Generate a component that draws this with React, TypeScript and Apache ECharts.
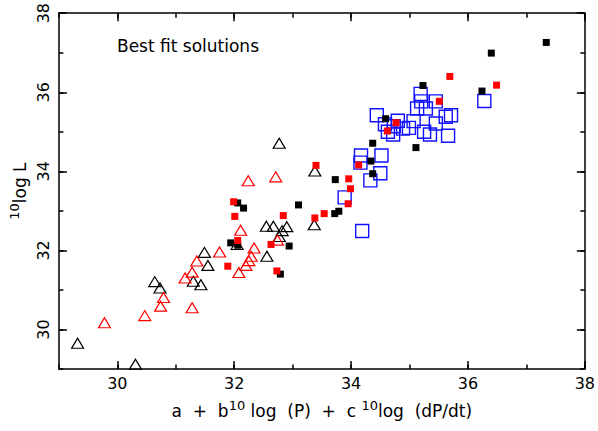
import React, { useEffect, useRef } from "react";
import * as echarts from "echarts";

const blackTriangles: number[][] = [
  [29.32, 29.65], [30.31, 29.12], [30.64, 31.21], [30.73, 31.05], [31.3, 31.22],
  [31.43, 31.13], [31.49, 31.95], [31.55, 31.62], [32.05, 32.15], [32.55, 32.61],
  [32.67, 32.61], [32.9, 32.6], [32.82, 32.5], [32.77, 32.35], [32.56, 31.85],
  [32.77, 34.71], [33.38, 34.01], [33.37, 32.65],
];
const redTriangles: number[][] = [
  [29.78, 30.17], [30.47, 30.35], [30.74, 30.59], [30.79, 30.81], [31.28, 30.55],
  [31.16, 31.3], [31.28, 31.45], [31.36, 31.73], [31.75, 31.96], [32.11, 32.51],
  [32.08, 31.44], [32.2, 31.62], [32.25, 31.74], [32.29, 31.85], [32.34, 32.06],
  [32.74, 32.26], [32.24, 33.76], [32.71, 33.86],
];
const blackSquares: number[][] = [
  [31.94, 32.19], [32.06, 32.13], [32.06, 33.2], [32.16, 33.07], [32.94, 32.11],
  [32.79, 31.4], [33.1, 33.15], [33.72, 32.93], [33.79, 32.99], [33.73, 33.79],
  [34.34, 34.26], [34.37, 33.94], [34.37, 34.71], [34.59, 35.33], [35.11, 34.6],
  [35.23, 36.17], [36.24, 36.03], [36.4, 36.99], [37.34, 37.26],
];
const redSquares: number[][] = [
  [31.99, 33.23], [32.01, 32.86], [32.06, 32.25], [31.89, 31.6], [32.63, 32.15],
  [32.73, 31.48], [32.84, 32.88], [33.38, 32.82], [33.54, 32.93], [33.4, 34.15],
  [33.95, 33.18], [33.99, 33.56], [33.96, 33.81], [34.13, 34.16], [34.62, 35.02],
  [34.77, 35.23], [35.51, 35.77], [35.69, 36.4], [36.49, 36.18],
];
const blueSquares: number[][] = [
  [35.19, 35.96], [35.2, 35.77], [35.45, 35.77], [35.13, 35.59], [35.28, 35.59],
  [36.28, 35.78], [34.44, 35.42], [34.58, 35.19], [34.8, 35.28], [35.07, 35.27],
  [35.62, 35.38], [35.71, 35.42], [34.73, 35.14], [34.63, 35.0], [34.72, 34.93],
  [34.89, 35.08], [34.99, 35.1], [35.45, 35.21], [35.25, 35.0], [35.35, 34.93],
  [35.66, 34.9], [34.17, 34.4], [34.52, 34.4], [34.16, 34.22], [34.5, 33.95],
  [34.33, 33.77], [33.89, 33.34], [34.19, 32.49],
];
const majorTicks = [30, 32, 34, 36, 38];
const axisMin = 29;
const axisMax = 38;
const titleText = "Best fit solutions";
const xName = "{n|a\u00a0 +\u00a0 b}{sup|10}{n| log\u00a0 (P)\u00a0 + \u00a0c }{sup|10}{n|log\u00a0 (dP/dt)}";
const yName = "{sup|10}{n|log L}";

const FONT = "DejaVu Sans";

export default function App() {
  const ref = useRef<HTMLDivElement>(null);
  useEffect(() => {
    if (!ref.current) return;
    const chart = echarts.init(ref.current, undefined, { renderer: "svg" });
    const line = { color: "#000", width: 1.5 };
    const rich = {
      n: { fontSize: 17, fontFamily: FONT, color: "#000", lineHeight: 20, verticalAlign: "bottom" },
      sup: { fontSize: 13, fontFamily: FONT, color: "#000", lineHeight: 14, verticalAlign: "bottom", padding: [0, 0, 7, 0] },
    };
    const base: any = { type: "value", min: axisMin, max: axisMax, interval: 1, splitLine: { show: false } };
    const minorAxis = (position: string, extra: any = {}) => ({
      ...base,
      position,
      axisLine: { show: true, onZero: false, lineStyle: line },
      axisTick: { show: true, inside: true, length: 4.5, lineStyle: line },
      axisLabel: { show: false },
      ...extra,
    });
    const majorAxis = (position: string) => ({
      ...base,
      position,
      axisLine: { show: false, onZero: false },
      axisTick: { show: true, inside: true, length: 8, customValues: majorTicks, lineStyle: line },
      axisLabel: { show: false },
    });
    const labelStyle = { fontSize: 16, fontFamily: FONT, color: "#000" };
    const mk = (data: number[][], symbol: string, size: any, fill: string, stroke: string, bw: number) => ({
      type: "scatter",
      data,
      symbol,
      symbolSize: size,
      silent: true,
      itemStyle: { color: fill, borderColor: stroke, borderWidth: bw, opacity: 1 },
    });
    chart.setOption({
      animation: false,
      grid: { left: 57, right: 11, top: 11, bottom: 62, containLabel: false },
      xAxis: [
        minorAxis("bottom", {
          axisLabel: { show: true, customValues: majorTicks, margin: 6, ...labelStyle },
          name: xName,
          nameLocation: "middle",
          nameGap: 30,
          nameTextStyle: { rich },
        }),
        majorAxis("bottom"),
        minorAxis("top"),
        majorAxis("top"),
      ],
      yAxis: [
        minorAxis("left", {
          axisLabel: { show: true, customValues: majorTicks, margin: 7, rotate: 90, ...labelStyle },
          name: yName,
          nameLocation: "middle",
          nameRotate: 90,
          nameGap: 27,
          nameTextStyle: { rich },
        }),
        majorAxis("left"),
        minorAxis("right"),
        majorAxis("right"),
      ],
      graphic: [
        {
          type: "text",
          x: 117,
          y: 45.5,
          style: { text: titleText, font: `17px '${FONT}'`, fill: "#000", verticalAlign: "middle" },
        },
      ],
      series: [
        mk(blueSquares, "rect", 13, "rgba(0,0,0,0)", "#1010ff", 1.4),
        mk(blackTriangles, "triangle", [12, 10], "rgba(0,0,0,0)", "#000", 1.2),
        mk(redTriangles, "triangle", [12, 10], "rgba(0,0,0,0)", "#ff0000", 1.2),
        mk(blackSquares, "rect", 7, "#000", "#000", 0),
        mk(redSquares, "rect", 7, "#ff0000", "#ff0000", 0),
      ],
    });
    return () => chart.dispose();
  }, []);
  return <div ref={ref} style={{ position: "fixed", left: 0, top: 0, width: 598, height: 431, background: "#fff" }} />;
}
